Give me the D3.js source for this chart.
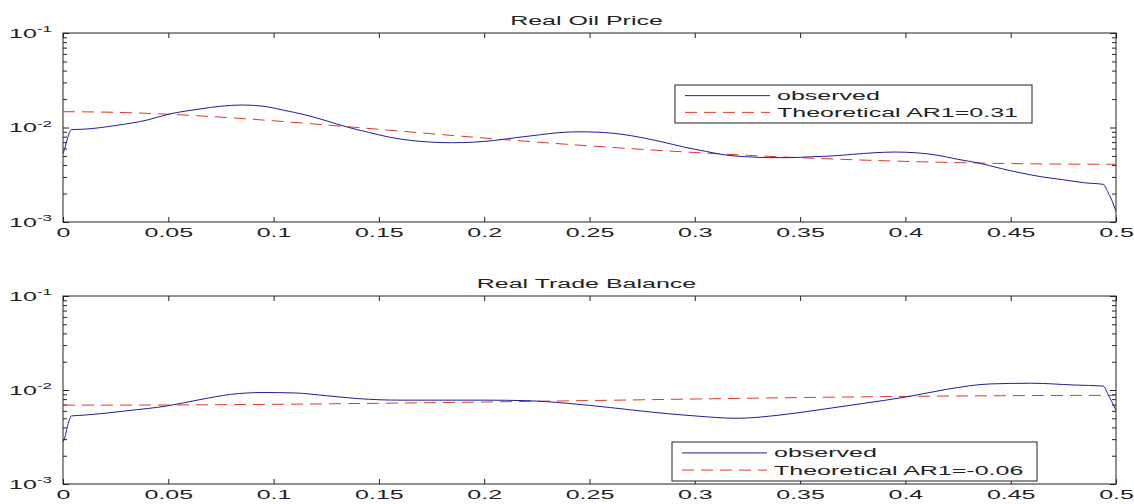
<!DOCTYPE html>
<html>
<head>
<meta charset="utf-8">
<script src="https://cdn.jsdelivr.net/npm/d3@7"></script>
<style>
  body { margin: 0; background: #fff; }
  text { font-family: "Liberation Sans", Arial, sans-serif; fill: #222; }
</style>
</head>
<body>
<svg id="chart" width="1134" height="504"></svg>
<script>
// x ticks shared by both panels
const xTicks = [0, 0.05, 0.1, 0.15, 0.2, 0.25, 0.3, 0.35, 0.4, 0.45, 0.5]
const xTickLabels = ['0', '0.05', '0.1', '0.15', '0.2', '0.25', '0.3', '0.35', '0.4', '0.45', '0.5']
const yMajor = [0.001, 0.01, 0.1]
const yMajorExp = ['-3', '-2', '-1']

// Real Oil Price
const oilFreq = [0, 0.001, 0.002, 0.003, 0.004, 0.01, 0.025, 0.04, 0.05,
  0.065, 0.075, 0.085, 0.095, 0.105, 0.115, 0.125, 0.135, 0.145, 0.155, 0.165,
  0.175, 0.185, 0.195, 0.205, 0.215, 0.225, 0.235, 0.245, 0.255, 0.265, 0.275,
  0.285, 0.295, 0.305, 0.315, 0.325, 0.335, 0.345, 0.355, 0.365, 0.375, 0.385,
  0.395, 0.405, 0.415, 0.425, 0.435, 0.445, 0.455, 0.465, 0.475, 0.485,
  0.494, 0.496, 0.498, 0.5]
const oilObserved = [0.0053, 0.0062, 0.0075, 0.0088, 0.0095, 0.0096, 0.0105, 0.0120, 0.0138,
  0.0157, 0.0168, 0.0173, 0.0168, 0.0152, 0.0136, 0.0118, 0.0101, 0.0089, 0.0079, 0.0073,
  0.0070, 0.0069, 0.0070, 0.0073, 0.0078, 0.0083, 0.0088, 0.0090, 0.0089, 0.0085, 0.0078,
  0.0070, 0.0062, 0.0056, 0.0051, 0.0049, 0.0048, 0.0048, 0.0049, 0.0050, 0.0052, 0.0054,
  0.0055, 0.0054, 0.0051, 0.0046, 0.0042, 0.0037, 0.0033, 0.0030, 0.0028, 0.0026,
  0.0025, 0.0021, 0.0017, 0.0013]
const oilArFreq = [0, 0.025, 0.05, 0.075, 0.1, 0.125, 0.15, 0.175, 0.2, 0.225, 0.25,
  0.275, 0.3, 0.325, 0.35, 0.375, 0.4, 0.425, 0.45, 0.475, 0.5]
const oilTheoretical = [0.0147, 0.01447, 0.01382, 0.01287, 0.01177, 0.01064, 0.00957, 0.00859,
  0.00774, 0.00701, 0.00639, 0.00587, 0.00544, 0.00508, 0.00479, 0.00456, 0.00438, 0.00425,
  0.00415, 0.0041, 0.00408]

// Real Trade Balance
const tradeFreq = [0, 0.001, 0.002, 0.003, 0.004, 0.01, 0.03, 0.05, 0.065, 0.08, 0.095,
  0.11, 0.125, 0.14, 0.16, 0.18, 0.2, 0.22, 0.24, 0.26, 0.28, 0.3, 0.32, 0.34, 0.36,
  0.38, 0.4, 0.42, 0.44, 0.46, 0.48, 0.494, 0.496, 0.498, 0.5]
const tradeObserved = [0.0028, 0.0032, 0.0040, 0.0048, 0.0053, 0.0054, 0.0060, 0.0068, 0.0079,
  0.0090, 0.0094, 0.0093, 0.0087, 0.0081, 0.0078, 0.0078, 0.0078, 0.0077, 0.0072, 0.0065,
  0.0058, 0.0053, 0.0050, 0.0054, 0.0062, 0.0072, 0.0084, 0.0102, 0.0116, 0.0118, 0.0113,
  0.0110, 0.0092, 0.0075, 0.0061]
const tradeArFreq = [0, 0.05, 0.1, 0.15, 0.2, 0.25, 0.3, 0.35, 0.4, 0.45, 0.5]
const tradeTheoretical = [0.0069, 0.00693, 0.00704, 0.00722, 0.00745, 0.00772, 0.00802,
  0.00831, 0.00855, 0.00871, 0.00877]

const panels = [
  { title: 'Real Oil Price', top: 33, bottom: 222, obsX: oilFreq, obsY: oilObserved,
    arX: oilArFreq, arY: oilTheoretical, legend: ['observed', 'Theoretical AR1=0.31'],
    legendBox: [675, 85, 357, 38] },
  { title: 'Real Trade Balance', top: 296, bottom: 484, obsX: tradeFreq, obsY: tradeObserved,
    arX: tradeArFreq, arY: tradeTheoretical, legend: ['observed', 'Theoretical AR1=-0.06'],
    legendBox: [672, 442, 365, 39] }
]

const left = 63
const right = 1116
const blue = '#1f1f95'
const red = '#e0392b'
const stretch = 'scale(2,1)' // the picture is stretched 2x horizontally

const svg = d3.select('#chart')

const x = d3.scaleLinear().domain([0, 0.5]).range([left, right])

// minor log ticks 2..9 x 10^k
let yMinor = []
for (let k = -3; k <= -2; k++) {
  for (let m = 2; m <= 9; m++) yMinor.push(m * Math.pow(10, k))
}

panels.forEach(p => drawPanel(p))

function drawPanel(p) {
  let y = d3.scaleLog().domain([0.001, 0.1]).range([p.bottom, p.top])
  let g = svg.append('g')

  // x axis bottom with inward ticks
  let xb = g.append('g')
    .attr('transform', `translate(0,${p.bottom})`)
    .call(d3.axisBottom(x).tickValues(xTicks).tickSizeInner(-5).tickSizeOuter(0)
      .tickPadding(6).tickFormat((d, i) => xTickLabels[i]))
  xb.selectAll('text').attr('transform', stretch).style('font-size', '12.5px')

  g.append('g')
    .attr('transform', `translate(0,${p.top})`)
    .call(d3.axisTop(x).tickValues(xTicks).tickSizeInner(-5).tickSizeOuter(0).tickFormat(''))

  // y ticks left and right
  g.append('g').attr('transform', `translate(${left},0)`)
    .call(d3.axisLeft(y).tickValues(yMinor).tickSizeInner(-4).tickSizeOuter(0).tickFormat(''))
  g.append('g').attr('transform', `translate(${right},0)`)
    .call(d3.axisRight(y).tickValues(yMinor).tickSizeInner(-4).tickSizeOuter(0).tickFormat(''))
  g.append('g').attr('transform', `translate(${left},0)`)
    .call(d3.axisLeft(y).tickValues(yMajor).tickSizeInner(-6).tickSizeOuter(0).tickFormat(''))
  g.append('g').attr('transform', `translate(${right},0)`)
    .call(d3.axisRight(y).tickValues(yMajor).tickSizeInner(-6).tickSizeOuter(0).tickFormat(''))

  g.selectAll('.domain').remove()
  g.selectAll('.tick line').attr('stroke', '#222')

  // frame
  g.append('rect')
    .attr('x', left).attr('y', p.top)
    .attr('width', right - left).attr('height', p.bottom - p.top)
    .attr('fill', 'none').attr('stroke', '#222').attr('stroke-width', 1)

  // y labels 10^k
  let yl = g.selectAll('.ylab').data(yMajor).enter().append('text')
    .attr('class', 'ylab')
    .attr('text-anchor', 'end')
    .attr('transform', d => `translate(${left - 11},${y(d) + 4.5}) ${stretch}`)
  yl.append('tspan').style('font-size', '12.5px').text('10')
  yl.append('tspan').style('font-size', '8.5px').attr('dy', -5.5).text((d, i) => yMajorExp[i])

  // title
  g.append('text')
    .attr('text-anchor', 'middle')
    .attr('transform', `translate(${(left + right) / 2 - 3},${p.top - 8}) ${stretch}`)
    .style('font-size', '12.5px')
    .text(p.title)

  // curves
  let line = d3.line().x(d => x(d[0])).y(d => y(d[1])).curve(d3.curveMonotoneX)

  g.append('path')
    .datum(p.arX.map((f, i) => [f, p.arY[i]]))
    .attr('d', line)
    .attr('fill', 'none').attr('stroke', red).attr('stroke-width', 1)
    .attr('stroke-dasharray', '12,7')

  g.append('path')
    .datum(p.obsX.map((f, i) => [f, p.obsY[i]]))
    .attr('d', line)
    .attr('fill', 'none').attr('stroke', blue).attr('stroke-width', 1)

  // legend
  let [lx, ly, lw, lh] = p.legendBox
  let lg = g.append('g')
  lg.append('rect')
    .attr('x', lx).attr('y', ly).attr('width', lw).attr('height', lh)
    .attr('fill', '#fff').attr('stroke', '#222').attr('stroke-width', 1)

  let rows = [ly + lh * 0.28, ly + lh * 0.72]
  lg.append('line')
    .attr('x1', lx + 10).attr('x2', lx + 95).attr('y1', rows[0]).attr('y2', rows[0])
    .attr('stroke', blue).attr('stroke-width', 1)
  lg.append('line')
    .attr('x1', lx + 10).attr('x2', lx + 95).attr('y1', rows[1]).attr('y2', rows[1])
    .attr('stroke', red).attr('stroke-width', 1).attr('stroke-dasharray', '12,7')

  lg.selectAll('.legtext').data(p.legend).enter().append('text')
    .attr('class', 'legtext')
    .attr('transform', (d, i) => `translate(${lx + 102},${rows[i] + 4.5}) ${stretch}`)
    .style('font-size', '12.5px')
    .text(d => d)
}
</script>
</body>
</html>
